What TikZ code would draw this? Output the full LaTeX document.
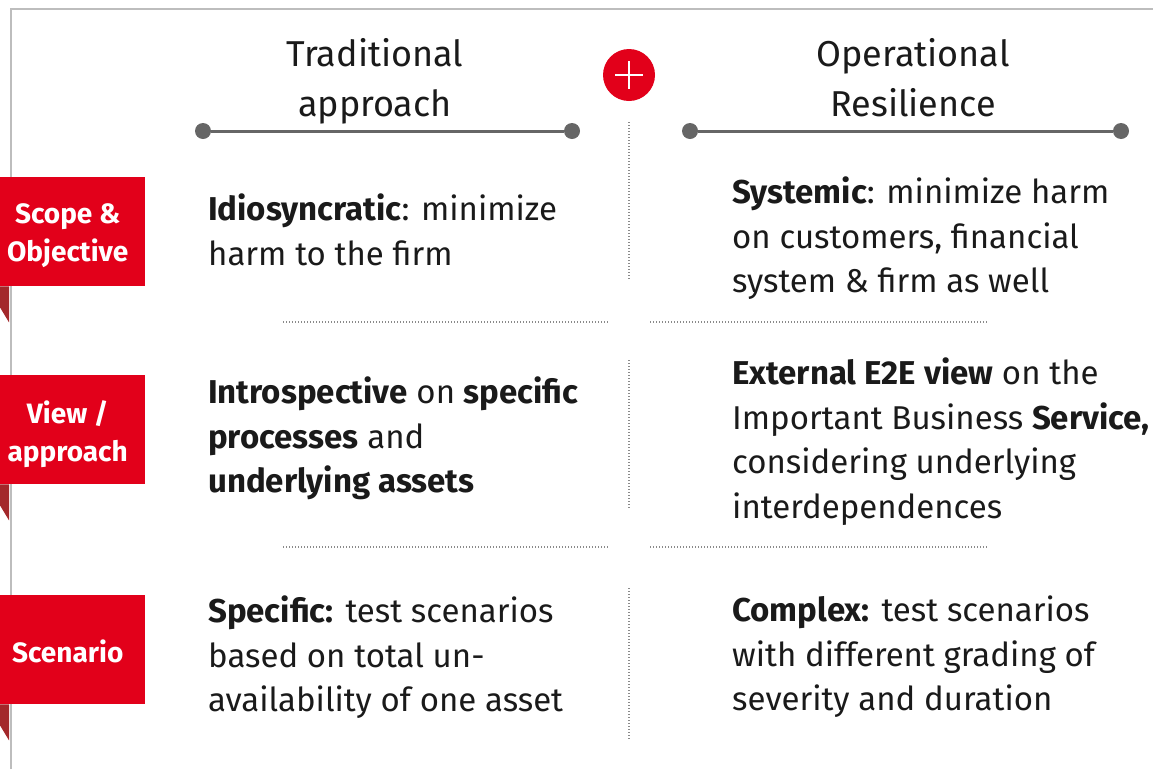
\documentclass[tikz,border=0pt]{standalone}
\usepackage{fontspec}
\setmainfont{Fira Sans}
\usetikzlibrary{positioning}

\definecolor{santred}{HTML}{E2001A}
\definecolor{folddark}{HTML}{A3282B}
\definecolor{linegray}{HTML}{666666}
\definecolor{framegray}{HTML}{BDBDBD}
\definecolor{dotgray}{HTML}{8A8A8A}
\definecolor{inkblack}{HTML}{1A1A1A}

\tikzset{
  headtext/.style={font=\fontsize{36}{50}\selectfont, align=center, inner sep=0pt, anchor=north, text=inkblack},
  bodytext/.style={font=\fontsize{33}{44.5}\selectfont, align=left, inner sep=0pt, anchor=north west, text=inkblack},
  rowbox/.style={fill=santred, minimum width=155pt, minimum height=109pt, inner sep=0pt, anchor=north west},
  rowtext/.style={text=white, font=\bfseries\fontsize{28}{38}\selectfont, align=center, inner sep=0pt},
  enddot/.style={circle, fill=linegray, minimum size=16pt, inner sep=0pt},
  headline/.style={linegray, line width=3pt},
  sepline/.style={dotgray, line width=1.2pt, dash pattern=on 1pt off 2pt},
}

\begin{document}
\begin{tikzpicture}[x=1pt,y=-1pt]
      \useasboundingbox (0,0) rectangle (1153,769);

      % frame
      \draw[framegray, line width=2pt] (11,769) -- (11,9) -- (1153,9);

      % headings
      \node[headtext] (trad) at (375,38) {Traditional\\approach};
      \node[headtext] (oper) at (913,38) {Operational\\Resilience};

      \node[circle, fill=santred, minimum size=52pt, inner sep=0pt] (plus) at (629,75) {};
      \draw[white, line width=2.5pt] (plus.center) ++(-14,0) -- ++(28,0);
      \draw[white, line width=2.5pt] (plus.center) ++(0,-14) -- ++(0,28);

      \node[enddot] (trad-l) at (203,131) {};
      \node[enddot] (trad-r) at (572,131) {};
      \node[enddot] (oper-l) at (690,131) {};
      \node[enddot] (oper-r) at (1121,131) {};
      \draw[headline] (trad-l) -- (trad-r);
      \draw[headline] (oper-l) -- (oper-r);

      % rows
      \node[rowbox] (scope) at (-10,177) {};
      \node[rowbox] (view)  at (-10,375) {};
      \node[rowbox] (scen)  at (-10,595) {};
      \node[rowtext] (scope-t) at ([yshift=-4pt]scope.center) {Scope \&\\Objective};
      \node[rowtext] (view-t)  at ([yshift=-4pt]view.center) {View /\\approach};
      \node[rowtext] (scen-t)  at ([yshift=-2pt]scen.center) {Scenario};

      \fill[folddark] (scope.south west) ++(10,0) -- ++(9,0) -- ++(0,36) -- ++(-9,-15) -- cycle;
      \fill[folddark] (view.south west) ++(10,0) -- ++(9,0) -- ++(0,36) -- ++(-9,-15) -- cycle;
      \fill[folddark] (scen.south west) ++(10,0) -- ++(9,0) -- ++(0,36) -- ++(-9,-15) -- cycle;

      \node[bodytext] (idio) at (208,194)
        {\textbf{Idiosyncratic}: minimize\\harm to the firm};
      \node[bodytext] (syst) at (732,177)
        {\textbf{Systemic}: minimize harm\\on customers, financial\\system \& firm as well};
      \node[bodytext] (intro) at (208,377)
        {\textbf{Introspective} on \textbf{specific}\\\textbf{processes} and\\\textbf{underlying assets}};
      \node[bodytext] (extern) at (732,358)
        {\textbf{External E2E view} on the\\Important Business \textbf{Service,}\\considering underlying\\interdependences};
      \node[bodytext] (spec) at (208,596)
        {\textbf{Specific:} test scenarios\\based on total un-\\availability of one asset};
      \node[bodytext] (compl) at (732,596)
        {\textbf{Complex:} test scenarios\\with different grading of\\severity and duration};

      % dotted separators
      \coordinate (v1a) at (629,122); \coordinate (v1b) at (629,280);
      \coordinate (v2a) at (629,360); \coordinate (v2b) at (629,508);
      \coordinate (v3a) at (629,588); \coordinate (v3b) at (629,740);
      \draw[sepline] (v1a) -- (v1b);
      \draw[sepline] (v2a) -- (v2b);
      \draw[sepline] (v3a) -- (v3b);

      \coordinate (h1a) at (283,322); \coordinate (h1b) at (608,322);
      \coordinate (h1c) at (650,322); \coordinate (h1d) at (988,322);
      \coordinate (h2a) at (283,547); \coordinate (h2b) at (608,547);
      \coordinate (h2c) at (650,547); \coordinate (h2d) at (988,547);
      \draw[sepline] (h1a) -- (h1b);
      \draw[sepline] (h1c) -- (h1d);
      \draw[sepline] (h2a) -- (h2b);
      \draw[sepline] (h2c) -- (h2d);
    \end{tikzpicture}
\end{document}
